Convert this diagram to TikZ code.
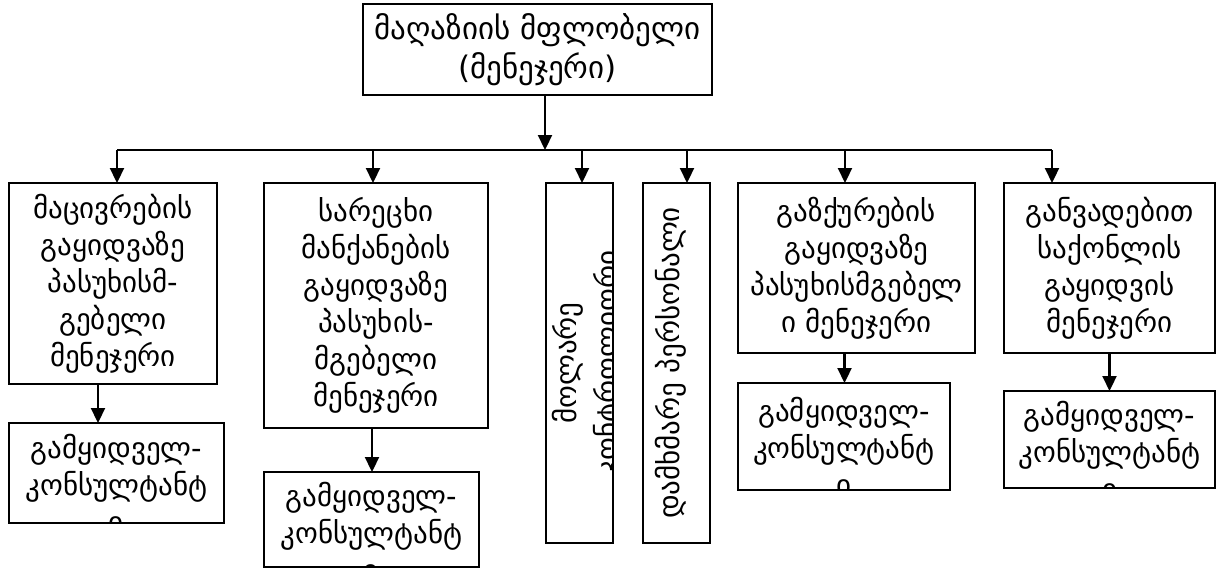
\documentclass[tikz,border=0pt]{standalone}
\usepackage{fontspec}
\setmainfont{DejaVu Sans}
\usetikzlibrary{arrows.meta,positioning}

\tikzset{
  box/.style={draw, line width=2.2pt, inner sep=0pt, outer sep=0pt, anchor=north west,
              align=center, font=\fontsize{29}{37}\selectfont},
  lbl/.style={draw=none, align=center, inner sep=0pt, font=\fontsize{29}{37}\selectfont},
  cliptext/.style={path picture={\node[lbl, anchor=north] at ([yshift=-10pt]path picture bounding box.north) {#1};}},
  arr/.style={line width=2.2pt, -{Triangle[length=15pt,width=14pt]}},
}

\begin{document}
\begin{tikzpicture}[x=1pt, y=-1pt]
  \useasboundingbox (0,0) rectangle (1225,571);

  % top
  \node[box, minimum width=349pt, minimum height=91pt, font=\fontsize{31}{39}\selectfont] (owner) at (363,4)
       {მაღაზიის მფლობელი\\(მენეჯერი)};

  % second row
  \node[box, minimum width=208pt, minimum height=201pt] (fridge) at (9,183)
       {მაცივრების\\გაყიდვაზე\\პასუხისმ-\\გებელი\\მენეჯერი};
  \node[box, minimum width=224pt, minimum height=245pt] (washer) at (264,183)
       {სარეცხი\\მანქანების\\გაყიდვაზე\\პასუხის-\\მგებელი\\მენეჯერი};
  \node[box, minimum width=67pt, minimum height=360pt] (cashier) at (546,183) {};
  \node[box, minimum width=67pt, minimum height=360pt] (helper) at (643,183) {};
  \node[box, minimum width=237pt, minimum height=170pt] (gas) at (738,183)
       {გაზქურების\\გაყიდვაზე\\პასუხისმგებელ\\ი მენეჯერი};
  \node[box, minimum width=211pt, minimum height=170pt] (credit) at (1004,183)
       {განვადებით\\საქონლის\\გაყიდვის\\მენეჯერი};

  % rotated texts, cut by their boxes
  \begin{scope}
    \clip (cashier.south west) rectangle (cashier.north east);
    \node[lbl, rotate=90, anchor=north] (cashierText) at ([xshift=6pt]cashier.west)
         {მოლარე\\[4pt]კონტროლიორი};
  \end{scope}
  \begin{scope}
    \clip (helper.south west) rectangle (helper.north east);
    \node[lbl, rotate=90, anchor=north] (helperText) at ([xshift=12pt]helper.west)
         {დამხმარე პერსონალი};
  \end{scope}

  % consultants
  \node[box, minimum width=215pt, minimum height=100pt,
        cliptext={გამყიდველ-\\კონსულტანტ\\ი}] (fridgeSales) at (9,423) {};
  \node[box, minimum width=215pt, minimum height=95pt,
        cliptext={გამყიდველ-\\კონსულტანტ\\ი}] (washerSales) at (264,472) {};
  \node[box, minimum width=212pt, minimum height=107pt,
        cliptext={გამყიდველ-\\კონსულტანტ\\ი}] (gasSales) at (738,383) {};
  \node[box, minimum width=211pt, minimum height=97pt,
        cliptext={გამყიდველ-\\კონსულტანტ\\ი}] (creditSales) at (1004,391) {};

  % bus
  \coordinate (bus)  at (545,150);
  \coordinate (busL) at (117,150);
  \coordinate (busR) at (1052,150);
  \coordinate (d2)   at (373,150);
  \coordinate (d3)   at (582,150);
  \coordinate (d4)   at (687,150);
  \coordinate (d5)   at (845,150);

  \draw[arr] (owner.south -| bus) -- (bus);
  \draw[line width=2.2pt] (busL) -- (busR);
  \draw[arr] (busL) -- (busL |- fridge.north);
  \draw[arr] (d2) -- (d2 |- washer.north);
  \draw[arr] (d3) -- (d3 |- cashier.north);
  \draw[arr] (d4) -- (d4 |- helper.north);
  \draw[arr] (d5) -- (d5 |- gas.north);
  \draw[arr] (busR) -- (busR |- credit.north);

  % down to consultants
  \draw[arr] ([xshift=-15pt]fridge.south) -- ([xshift=-15pt]fridge.south |- fridgeSales.north);
  \draw[arr] ([xshift=-4pt]washer.south) -- ([xshift=-4pt]washer.south |- washerSales.north);
  \draw[arr] ([xshift=-12pt]gas.south) -- ([xshift=-12pt]gas.south |- gasSales.north);
  \draw[arr] (credit.south) -- (credit.south |- creditSales.north);
\end{tikzpicture}
\end{document}
